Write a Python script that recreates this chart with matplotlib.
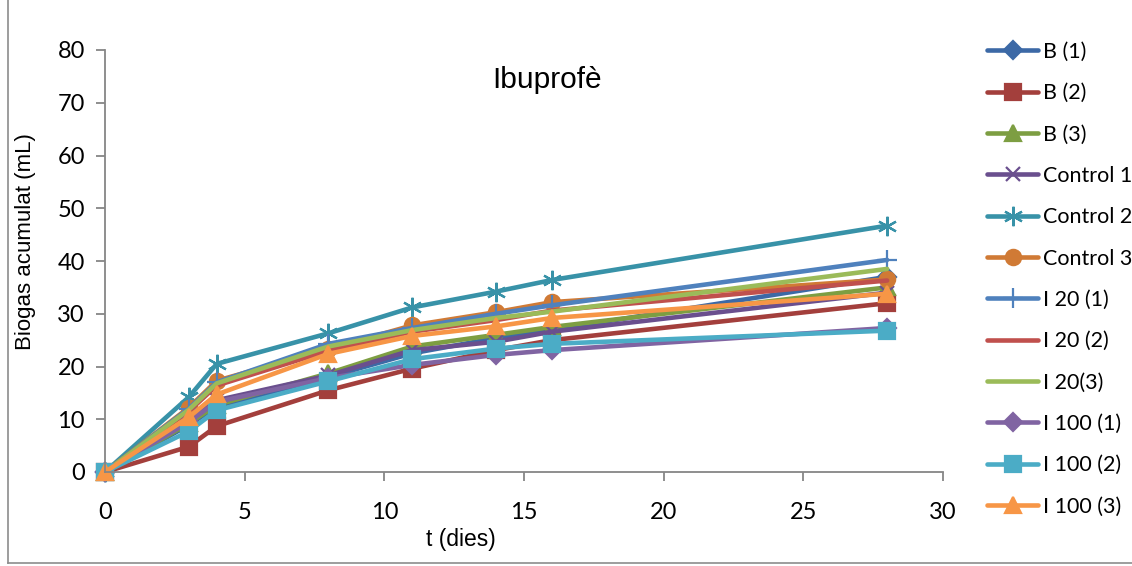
import matplotlib
matplotlib.use("Agg")
import matplotlib.pyplot as plt
from matplotlib.lines import Line2D

# Days of measurement
t_days = [0, 3, 4, 8, 11, 14, 16, 28]

# Cumulative biogas (mL) per reactor
b1 = [0, 8.9, 12.4, 18.0, 22.5, 25.4, 26.9, 37.0]
b2 = [0, 4.8, 8.7, 15.5, 19.6, 23.1, 25.0, 32.0]
b3 = [0, 9.2, 12.7, 18.7, 23.8, 26.0, 27.5, 35.0]
control1 = [0, 9.9, 13.6, 18.3, 23.1, 24.7, 26.6, 34.0]
control2 = [0, 14.2, 20.5, 26.3, 31.2, 34.2, 36.4, 46.7]
control3 = [0, 12.2, 17.3, 23.3, 27.8, 30.3, 32.2, 36.5]
i20_1 = [0, 12.0, 17.0, 24.3, 27.3, 30.0, 31.6, 40.2]
i20_2 = [0, 11.5, 16.4, 23.0, 26.6, 28.8, 30.6, 36.3]
i20_3 = [0, 11.8, 16.8, 23.8, 26.9, 29.2, 30.4, 38.5]
i100_1 = [0, 9.5, 13.3, 17.8, 20.3, 22.2, 23.1, 27.3]
i100_2 = [0, 7.7, 11.7, 17.2, 21.4, 23.4, 24.3, 26.8]
i100_3 = [0, 10.4, 14.7, 22.4, 25.8, 27.6, 29.2, 33.8]

labels = ["B (1)", "B (2)", "B (3)", "Control 1", "Control 2", "Control 3",
          "I 20 (1)", "I 20 (2)", "I 20(3)", "I 100 (1)", "I 100 (2)", "I 100 (3)"]
series = [b1, b2, b3, control1, control2, control3,
          i20_1, i20_2, i20_3, i100_1, i100_2, i100_3]

colors = ["#3C69A6", "#A33F3C", "#7D9E42", "#6A4F8E", "#3892A8", "#D07A35",
          "#4F81BD", "#C0504D", "#9BBB59", "#8064A2", "#4BACC6", "#F79646"]
asterisk = (6, 2, 0)
markers = ["D", "s", "^", "x", asterisk, "o", "+", None, None, "D", "s", "^"]
msizes = [9, 11, 12, 10, 14, 11, 14, 0, 0, 9, 11, 12]

tick_font = "Lato"
label_font = ["Liberation Sans", "DejaVu Sans"]

fig = plt.figure(figsize=(11.32, 5.66), dpi=100)
ax = fig.add_axes([105 / 1132, 1 - 472 / 566, (943 - 105) / 1132, (472 - 50) / 566])

handles = []
for vals, lab, col, mk, ms in zip(series, labels, colors, markers, msizes):
    (ln,) = ax.plot(t_days, vals, color=col, lw=3.3, marker=mk, markersize=ms,
                    markerfacecolor=col, markeredgecolor=col, markeredgewidth=1.6,
                    solid_capstyle="round", label=lab, clip_on=False)
    handles.append(ln)

ax.set_xlim(0, 30)
ax.set_ylim(0, 80)
ax.set_xticks(range(0, 31, 5))
ax.set_yticks(range(0, 81, 10))

for side in ("top", "right"):
    ax.spines[side].set_visible(False)
for side in ("left", "bottom"):
    ax.spines[side].set_color("#868686")
    ax.spines[side].set_linewidth(1.3)

ax.tick_params(axis="both", direction="out", color="#868686", width=1.3,
               length=6.5, labelsize=17)
ax.tick_params(axis="x", pad=15)
ax.tick_params(axis="y", pad=8)
for lbl in ax.get_xticklabels() + ax.get_yticklabels():
    lbl.set_family(tick_font)

ax.set_xlabel("t (dies)", family=label_font, fontsize=16.5)
ax.set_ylabel("Biogas acumulat (mL)", family=label_font, fontsize=16)
ax.xaxis.set_label_coords((461 - 105) / (943 - 105), -(528 - 472) / (472 - 50))
ax.yaxis.set_label_coords(-(105 - 36) / (943 - 105), (472 - 242) / (472 - 50))

ax.text(0.528, 0.93, "Ibuprofè", transform=ax.transAxes, ha="center", va="center",
        family=label_font, fontsize=21.5)

fig.legend(handles=handles, loc="upper left", bbox_to_anchor=(987 / 1132, 1 - 42 / 566),
           frameon=False, borderpad=0, borderaxespad=0, handlelength=2.37,
           handletextpad=0.23, labelspacing=0.99,
           prop={"family": tick_font, "size": 15.5})

# chart-area frame edges
fig.add_artist(Line2D([7.5 / 1132, 7.5 / 1132], [3 / 566, 1], transform=fig.transFigure,
                      color="#8c8c8c", lw=1.2))
fig.add_artist(Line2D([7.5 / 1132, 1], [3 / 566, 3 / 566], transform=fig.transFigure,
                      color="#8c8c8c", lw=1.2))

fig.savefig("out.png", dpi=100)
